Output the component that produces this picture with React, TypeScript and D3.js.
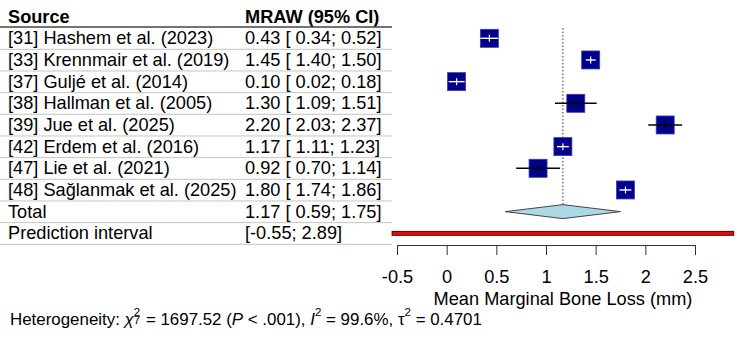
import React, { useRef, useEffect } from 'react';
import * as d3 from 'd3';

// study rows
const studies = [
  '[31] Hashem et al. (2023)',
  '[33] Krennmair et al. (2019)',
  '[37] Guljé et al. (2014)',
  '[38] Hallman et al. (2005)',
  '[39] Jue et al. (2025)',
  '[42] Erdem et al. (2016)',
  '[47] Lie et al. (2021)',
  '[48] Sağlanmak et al. (2025)',
];
const means = [0.43, 1.45, 0.10, 1.30, 2.20, 1.17, 0.92, 1.80];
const lower = [0.34, 1.40, 0.02, 1.09, 2.03, 1.11, 0.70, 1.74];
const upper = [0.52, 1.50, 0.18, 1.51, 2.37, 1.23, 1.14, 1.86];

// pooled estimate [mean, lower, upper] and prediction interval [lower, upper]
const pooled = [1.17, 0.59, 1.75];
const prediction = [-0.55, 2.89];

const xTicks = [-0.5, 0, 0.5, 1, 1.5, 2, 2.5];

// heterogeneity stats
const chiSq = 1697.52;
const chiDf = 7;
const pText = '< .001';
const iSq = 99.6;
const tauSq = 0.4701;

const FONT = '"Liberation Sans", Arial, sans-serif';
const FS = 18.2;

const fmt = (v: number) => (v < 0 ? '' : ' ') + v.toFixed(2);

const App = () => {
  const svgRef = useRef<SVGSVGElement>(null);

  useEffect(() => {
    const svg = d3.select(svgRef.current);
    svg.selectAll('*').remove();

    const x = d3.scaleLinear().domain([-0.5, 2.5]).range([397, 695]);
    const y = d3.scaleLinear().domain([0, 9]).range([38.3, 233.3]);
    const boxSize = 18;

    // ---- left table ----
    const colSource = 8;
    const colEst = 245;
    const tableRight = 392;

    svg.append('text')
      .attr('x', colSource).attr('y', 23)
      .attr('font-family', FONT).attr('font-size', FS).attr('font-weight', 'bold')
      .text('Source');
    svg.append('text')
      .attr('x', colEst).attr('y', 23)
      .attr('font-family', FONT).attr('font-size', FS).attr('font-weight', 'bold')
      .text('MRAW (95% CI)');
    svg.append('line')
      .attr('x1', 0).attr('x2', tableRight).attr('y1', 27).attr('y2', 27)
      .attr('stroke', '#444').attr('stroke-width', 1.5);

    const rowLabels = [...studies, 'Total', 'Prediction interval'];
    const rowValues = [
      ...means.map((m, i) => `${m.toFixed(2)} [${fmt(lower[i])}; ${upper[i].toFixed(2)}]`),
      `${pooled[0].toFixed(2)} [${fmt(pooled[1])}; ${pooled[2].toFixed(2)}]`,
      `[${prediction[0].toFixed(2)}; ${prediction[1].toFixed(2)}]`,
    ];

    const rows = svg.append('g').selectAll('g')
      .data(rowLabels)
      .join('g');
    rows.append('text')
      .attr('x', colSource).attr('y', (d, i) => y(i) + 6)
      .attr('font-family', FONT).attr('font-size', FS)
      .text(d => d);
    rows.append('text')
      .attr('x', colEst).attr('y', (d, i) => y(i) + 6)
      .attr('font-family', FONT).attr('font-size', FS)
      .style('white-space', 'pre')
      .text((d, i) => rowValues[i]);
    rows.append('line')
      .attr('x1', 0).attr('x2', tableRight)
      .attr('y1', (d, i) => y(i) + 11).attr('y2', (d, i) => y(i) + 11)
      .attr('stroke', '#c4c4c4').attr('stroke-width', 1);

    // ---- forest plot ----
    svg.append('line')
      .attr('x1', x(pooled[0])).attr('x2', x(pooled[0]))
      .attr('y1', 28).attr('y2', y(8) - 7)
      .attr('stroke', '#555').attr('stroke-width', 1.2)
      .attr('stroke-dasharray', '1.5,2');

    const studyG = svg.append('g').selectAll('g')
      .data(means)
      .join('g');
    studyG.append('rect')
      .attr('x', d => x(d) - boxSize / 2)
      .attr('y', (d, i) => y(i) - boxSize / 2)
      .attr('width', boxSize).attr('height', boxSize)
      .attr('fill', '#00008B')
      .attr('stroke', '#3a3ab4').attr('stroke-width', 0.8);

    // CI drawn white when it sits inside the box, black otherwise
    const ciColor = (i: number) => (x(upper[i]) - x(lower[i]) <= boxSize + 1 ? '#fff' : '#000');
    studyG.append('line')
      .attr('x1', (d, i) => x(lower[i])).attr('x2', (d, i) => x(upper[i]))
      .attr('y1', (d, i) => y(i)).attr('y2', (d, i) => y(i))
      .attr('stroke', (d, i) => ciColor(i)).attr('stroke-width', 1.4);
    studyG.append('line')
      .attr('x1', d => x(d)).attr('x2', d => x(d))
      .attr('y1', (d, i) => y(i) - 3.5).attr('y2', (d, i) => y(i) + 3.5)
      .attr('stroke', (d, i) => ciColor(i)).attr('stroke-width', 1.2);

    // pooled diamond
    const dy = y(8);
    svg.append('path')
      .attr('d', `M${x(pooled[1])},${dy}L${x(pooled[0])},${dy - 7}L${x(pooled[2])},${dy}L${x(pooled[0])},${dy + 7}Z`)
      .attr('fill', '#ADD8E6').attr('stroke', '#444').attr('stroke-width', 1);

    // prediction interval bar
    svg.append('rect')
      .attr('x', x(prediction[0])).attr('y', y(9) - 2)
      .attr('width', x(prediction[1]) - x(prediction[0])).attr('height', 4)
      .attr('fill', '#ff0000').attr('stroke', '#000').attr('stroke-width', 0.8);

    // x axis
    const axisY = 245;
    const axis = svg.append('g')
      .attr('transform', `translate(0,${axisY})`)
      .call(d3.axisBottom(x).tickValues(xTicks).tickSize(10).tickSizeOuter(0).tickPadding(15)
        .tickFormat(d => String(d)));
    axis.select('.domain').attr('stroke', '#333');
    axis.selectAll('.tick line').attr('stroke', '#333');
    axis.selectAll('.tick text')
      .attr('font-family', FONT).attr('font-size', FS).attr('fill', '#000');

    svg.append('text')
      .attr('x', 563).attr('y', 305)
      .attr('text-anchor', 'middle')
      .attr('font-family', FONT).attr('font-size', FS)
      .text('Mean Marginal Bone Loss (mm)');

    // heterogeneity line, built piece by piece so the scripts stack
    const hetY = 325;
    let cx = 10;
    const put = (t: string, opts: { italic?: boolean; size?: number; dy?: number; advance?: boolean } = {}) => {
      const node = svg.append('text')
        .attr('x', cx).attr('y', hetY + (opts.dy || 0))
        .attr('font-family', FONT).attr('font-size', opts.size || 16.9)
        .attr('font-style', opts.italic ? 'italic' : 'normal')
        .style('white-space', 'pre')
        .text(t);
      const w = (node.node() as SVGTextElement).getComputedTextLength();
      if (opts.advance !== false) cx += w;
      return w;
    };
    put('Heterogeneity: ');
    put('χ', { italic: true });
    const w1 = put('2', { size: 11.5, dy: -9, advance: false });
    const w2 = put(String(chiDf), { size: 11.5, dy: -1, advance: false });
    cx += Math.max(w1, w2) + 1;
    put(` = ${chiSq.toFixed(2)} (`);
    put('P', { italic: true });
    put(` ${pText}), `);
    put('I', { italic: true });
    put('2', { size: 11.5, dy: -9 });
    put(` = ${iSq}%, τ`);
    put('2', { size: 11.5, dy: -9 });
    put(` = ${tauSq}`);
  }, []);

  return (
    <svg
      ref={svgRef}
      width={750}
      height={349}
      style={{ position: 'absolute', left: 0, top: 0, background: '#fff' }}
    />
  );
};

export default App;
